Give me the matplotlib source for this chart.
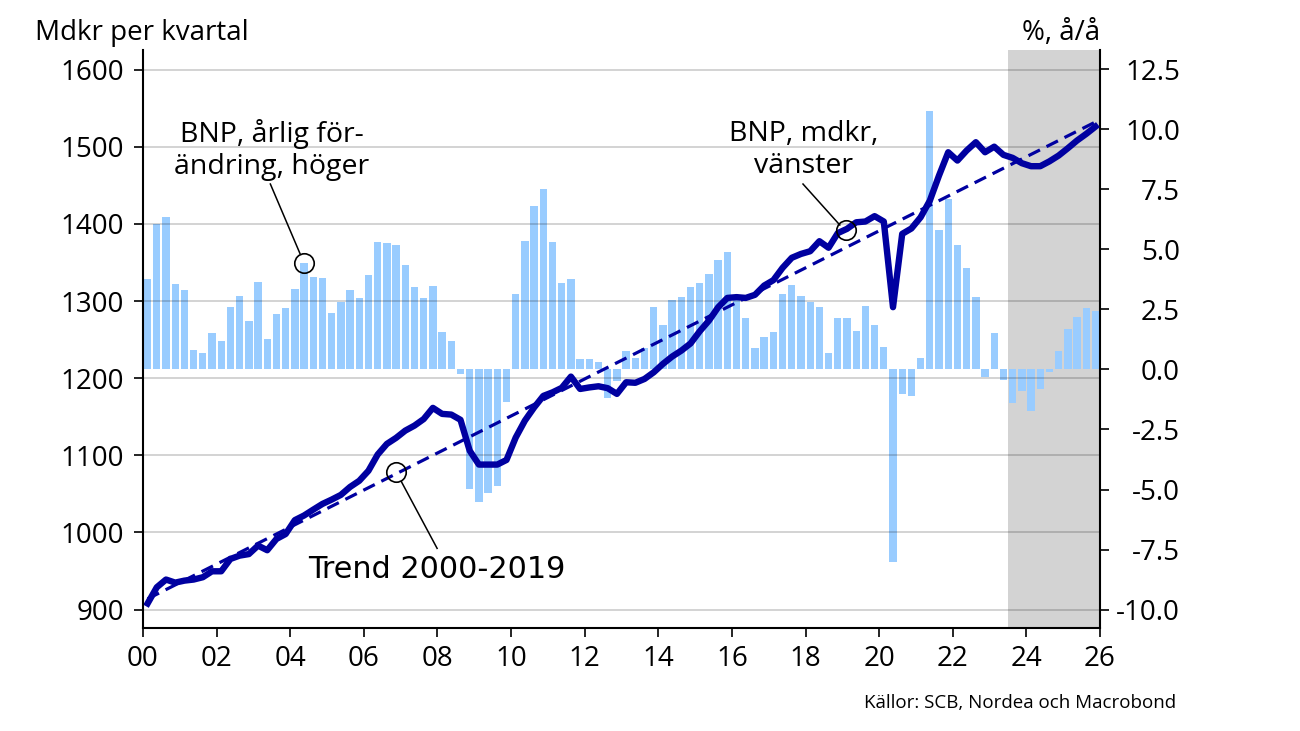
import numpy as np
import matplotlib.pyplot as plt

plt.rcParams['font.family'] = ['Open Sans', 'DejaVu Sans']

start_year = 2000

# BNP, mdkr per kvartal (vänster axel), 2000Q1-2025Q4
gdp_level = [908, 929, 939, 935,
             937.6, 939, 942, 949.7,
             949.7, 965.7, 970, 972,
             983, 977, 991.6, 998,
             1016, 1022, 1029.6, 1037,
             1042.6, 1048.7, 1059, 1067,
             1080, 1101, 1114.8, 1122.6,
             1132, 1138.5, 1147, 1161.5,
             1153.7, 1152.8, 1146, 1106,
             1088, 1088, 1088, 1094,
             1123, 1145, 1162, 1177,
             1181.6, 1187.4, 1202, 1186,
             1188, 1189.5, 1187, 1179.6,
             1194.7, 1194, 1199, 1207.6,
             1218.5, 1228, 1235.7, 1245,
             1260.8, 1274.6, 1291.9, 1304,
             1305, 1304, 1308, 1320,
             1327, 1343, 1356, 1361,
             1364.5, 1377.5, 1369, 1388,
             1393.5, 1402, 1403, 1410,
             1403, 1292, 1387, 1394,
             1408.5, 1430, 1462.6, 1492.8,
             1482, 1495, 1505.8, 1492.8,
             1500, 1489.4, 1485.5, 1478.6,
             1474.7, 1474.7, 1481, 1488.5,
             1498, 1508, 1516.6, 1526]

# BNP, årlig förändring i procent (höger axel)
gdp_growth = [3.79, 6.07, 6.35, 3.58,
              3.30, 0.81, 0.69, 1.50,
              1.17, 2.60, 3.08, 2.04,
              3.64, 1.28, 2.33, 2.56,
              3.36, 4.43, 3.86, 3.82,
              2.37, 2.82, 3.30, 2.97,
              3.93, 5.33, 5.25, 5.17,
              4.36, 3.44, 2.97, 3.49,
              1.57, 1.17, -0.17, -4.96,
              -5.50, -5.15, -4.86, -1.35,
              3.15, 5.36, 6.81, 7.53,
              5.32, 3.62, 3.79, 0.42,
              0.42, 0.31, -1.20, -0.50,
              0.75, 0.49, 0.89, 2.61,
              1.85, 2.89, 3.01, 3.42,
              3.62, 3.96, 4.56, 4.89,
              2.90, 2.15, 0.89, 1.35,
              1.58, 3.15, 3.51, 3.08,
              2.81, 2.60, 0.68, 2.14,
              2.14, 1.60, 2.63, 1.85,
              0.94, -8.03, -1.03, -1.11,
              0.49, 10.76, 5.83, 7.11,
              5.18, 4.21, 3.01, -0.30,
              1.51, -0.42, -1.39, -0.90,
              -1.74, -0.83, -0.10, 0.76,
              1.68, 2.17, 2.56, 2.42]

# trend 2000-2019, förlängd
trend_years = [2000.125, 2025.875]
trend_level = [914, 1532]

forecast_start = 2023.5
x_ticks = list(range(2000, 2027, 2))
x_labels = [f"{y % 100:02d}" for y in x_ticks]
left_ticks = list(range(900, 1601, 100))
right_ticks = [-10, -7.5, -5, -2.5, 0, 2.5, 5, 7.5, 10, 12.5]

navy = '#0000a0'
light_blue = '#99ccff'

fig = plt.figure(figsize=(13, 7.31), dpi=100)
ax = fig.add_axes([0.110, 0.1409, 0.7362, 0.7907])
ax2 = ax.twinx()
ax.set_zorder(2)
ax.patch.set_visible(False)

q = np.arange(len(gdp_level))
xq = start_year + (q + 0.5) / 4

ax2.axvspan(forecast_start, 2026, color='#d3d3d3', lw=0, zorder=0)
ax2.bar(xq, gdp_growth, width=0.2, color=light_blue, zorder=1)

ax.plot(trend_years, trend_level, color=navy, lw=2.3, dashes=(4, 2.3))
ax.plot(xq, gdp_level, color=navy, lw=4.6, solid_joinstyle='round')

ax.set_xlim(2000, 2026)
ax.set_ylim(876.2, 1625.3)
ax2.set_ylim(-10.77, 13.31)

ax.set_xticks(x_ticks, x_labels)
ax.set_yticks(left_ticks)
ax2.set_yticks(right_ticks, [f"{v:.1f}" for v in right_ticks])
for lab in ax2.get_yticklabels():
    lab.set_ha('right')

ax.grid(axis='y', color='k', alpha=0.22, lw=1.1)
ax.grid(axis='x', visible=False)

for s in ['top', 'right']:
    ax.spines[s].set_visible(False)
for s in ['top', 'left', 'bottom']:
    ax2.spines[s].set_visible(False)
for sp in [ax.spines['left'], ax.spines['bottom'], ax2.spines['right']]:
    sp.set_linewidth(1.5)

ax.tick_params(axis='x', direction='out', length=6.5, width=1.2, labelsize=20, pad=6)
ax.tick_params(axis='y', direction='out', length=6.5, width=1.2, labelsize=20, pad=7)
ax2.tick_params(axis='y', direction='out', length=6.5, width=1.2, labelsize=20, pad=51)

# annotations
ax.text(2003.49, 1495.7, "BNP, årlig för-\nändring, höger", ha='center', va='center', fontsize=20.5)
ax.text(2017.95, 1495.7, "BNP, mdkr,\nvänster", ha='center', va='center', fontsize=20.5)
ax.text(2007.97, 952.6, "Trend 2000-2019", ha='center', va='center', fontsize=21.8,
        family='DejaVu Sans')

circle_x = [2004.37, 2019.11, 2006.86]
circle_y = [1348.8, 1392, 1078.7]
ax.plot(circle_x, circle_y, 'o', mfc='none', mec='k', ms=14, mew=1.2, zorder=5)
ax.plot([2003.46, 2004.27], [1451.6, 1360.9], color='k', lw=1.1)
ax.plot([2017.93, 2018.93], [1451.6, 1398.5], color='k', lw=1.1)
ax.plot([2007.99, 2007.02], [979.4, 1065.8], color='k', lw=1.1)

fig.text(0.0269, 0.945, "Mdkr per kvartal", ha='left', va='baseline', fontsize=20)
fig.text(0.8465, 0.945, "%, å/å", ha='right', va='baseline', fontsize=20)
fig.text(0.9046, 0.0319, "Källor: SCB, Nordea och Macrobond", ha='right', va='baseline',
         fontsize=13.5)

fig.savefig('out.png', dpi=100)
